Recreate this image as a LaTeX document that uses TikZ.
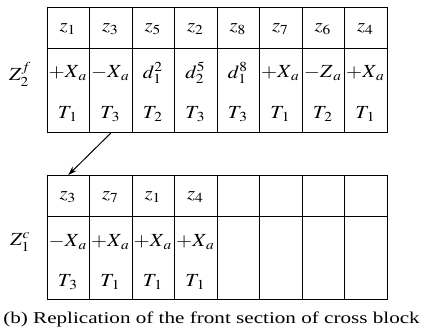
\documentclass[tikz,border=0pt]{standalone}
\usepackage{mathptmx}
\usepackage[no-math]{fontspec}
\usepackage{graphicx}
\setmainfont{Liberation Serif}
\usetikzlibrary{arrows.meta}
\newcommand{\wide}[1]{\scalebox{1.12}[1]{#1}}
\newcommand{\widecap}[1]{\scalebox{1.28}[1]{#1}}
\begin{document}
\begin{tikzpicture}[x=1pt,y=-1pt,
  gridline/.style={line width=1.1pt},
  hcell/.style={draw, gridline, minimum width=42.5pt, minimum height=41pt, anchor=north west, inner sep=0pt},
  bcell/.style={draw, gridline, minimum width=42.5pt, minimum height=84pt, anchor=north west, inner sep=0pt},
  txt/.style={inner sep=0pt, font=\fontsize{18.5}{22}\selectfont},
  lbl/.style={inner sep=0pt, font=\fontsize{18.5}{22}\selectfont},
  captext/.style={inner sep=0pt, font=\fontsize{16.5}{20}\selectfont, anchor=base},
  arr/.style={-{Stealth[length=9pt,width=6pt]}, line width=1pt}]
\useasboundingbox (0,0) rectangle (422,333);
% top table
\foreach \i/\h/\m/\t in {1/1/{+X_{\,a}}/1, 2/3/{-X_{\,a}}/3, 3/5/{d_1^2}/2, 4/2/{d_2^5}/3, 5/8/{d_1^8}/3, 6/7/{+X_{\,a}}/1, 7/6/{-Z_{\,a}}/2, 8/4/{+X_{\,a}}/1}{
  \node[hcell] (th\i) at ({46.5+(\i-1)*42.5},7) {};
  \node[bcell] (tb\i) at ({46.5+(\i-1)*42.5},48) {};
  \node[txt] (thz\i) at ({46.5+(\i-0.5)*42.5},29) {\wide{$z_{\h}$}};
  \node[txt] (tbm\i) at ({46.5+(\i-0.5)*42.5},73) {\wide{$\m$}};
  \node[txt] (tbt\i) at ({46.5+(\i-0.5)*42.5},114) {\wide{$T_{\,\t}$}};
}
% bottom table
\foreach \i in {1,...,8}{
  \node[hcell] (bh\i) at ({46.5+(\i-1)*42.5},175) {};
  \node[bcell, minimum height=83pt] (bb\i) at ({46.5+(\i-1)*42.5},216) {};
}
\foreach \i/\h/\m/\t in {1/3/{-X_{\,a}}/3, 2/7/{+X_{\,a}}/1, 3/1/{+X_{\,a}}/1, 4/4/{+X_{\,a}}/1}{
  \node[txt] (bhz\i) at ({46.5+(\i-0.5)*42.5},197) {\wide{$z_{\h}$}};
  \node[txt] (bbm\i) at ({46.5+(\i-0.5)*42.5},242) {\wide{$\m$}};
  \node[txt] (bbt\i) at ({46.5+(\i-0.5)*42.5},282) {\wide{$T_{\,\t}$}};
}
\node[lbl] (lf) at (20,74) {\wide{$Z_2^f$}};
\node[lbl] (lc) at (20,242) {\wide{$Z_1^c$}};
\draw[arr] (tb2.south) -- (bh1.north);
\node[captext] (caption) at (211.5,323) {\widecap{(b) Replication of the front section of cross block}};
\end{tikzpicture}
\end{document}
